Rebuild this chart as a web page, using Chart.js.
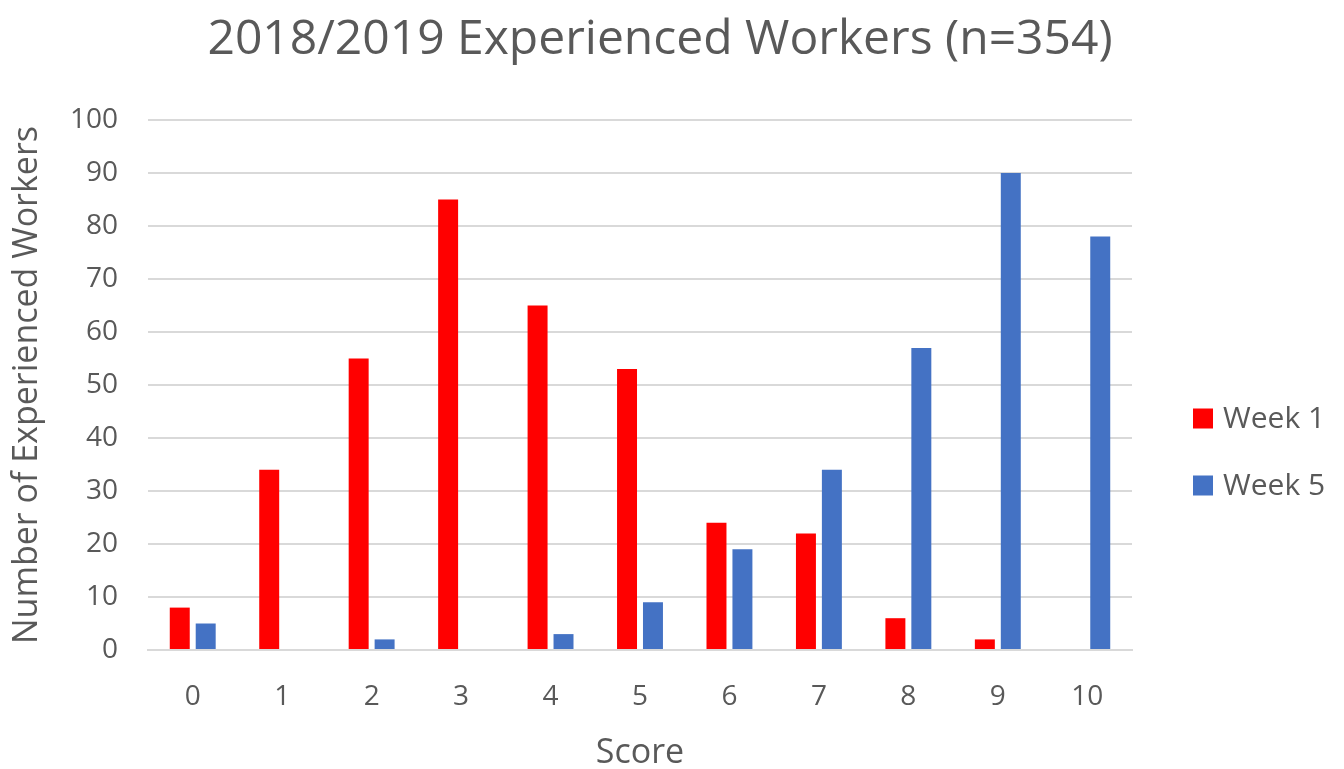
<!DOCTYPE html>
<html>
<head>
<meta charset="utf-8">
<script src="https://cdn.jsdelivr.net/npm/chart.js@4/dist/chart.umd.min.js"></script>
<style>
  html, body { margin: 0; padding: 0; background: #fff; }
  #wrap { width: 1344px; height: 769px; }
</style>
</head>
<body>
<div id="wrap"><canvas id="scoreChart" width="1344" height="769"></canvas></div>
<script>
// Score distribution, week 1 vs week 5
const scores = ['0', '1', '2', '3', '4', '5', '6', '7', '8', '9', '10'];
const week1 = [8, 34, 55, 85, 65, 53, 24, 22, 6, 2, 0];
const week5 = [5, 0, 2, 0, 3, 9, 19, 34, 57, 90, 78];
const seriesNames = ['Week 1', 'Week 5'];
const seriesColors = ['#ff0000', '#4472c4'];

const textColor = '#595959';
const gridColor = '#d9d9d9';
const fontFamily = '"Open Sans", "Noto Sans", sans-serif';

// legend on the right, drawn into the space kept free by the spacer axis
const sideLegend = {
    id: 'sideLegend',
    afterDraw(chart) {
        const ctx = chart.ctx;
        const area = chart.chartArea;
        const x = area.right + 61;
        const midY = (area.top + area.bottom) / 2 + 67;
        const gap = 67;
        ctx.save();
        ctx.font = '30px ' + fontFamily;
        ctx.textBaseline = 'middle';
        chart.data.datasets.forEach((ds, i) => {
            const y = midY + (i - 0.5) * gap;
            ctx.fillStyle = ds.backgroundColor;
            ctx.fillRect(x, y - 10, 20, 20);
            ctx.fillStyle = textColor;
            ctx.fillText(ds.label, x + 30, y + 1);
        });
        ctx.restore();
    }
};

const ctx = document.getElementById('scoreChart').getContext('2d');
new Chart(ctx, {
    type: 'bar',
    data: {
        labels: scores,
        datasets: [
            { label: seriesNames[0], data: week1, backgroundColor: seriesColors[0] },
            { label: seriesNames[1], data: week5, backgroundColor: seriesColors[1] }
        ]
    },
    options: {
        responsive: false,
        animation: false,
        layout: { padding: { left: 0, right: 24, top: 0, bottom: 0 } },
        datasets: {
            bar: { categoryPercentage: 0.58, barPercentage: 0.77 }
        },
        plugins: {
            legend: { display: false },
            tooltip: { enabled: false },
            title: {
                display: true,
                text: '2018/2019 Experienced Workers (n=354)',
                color: textColor,
                font: { family: fontFamily, size: 48, weight: 'normal', lineHeight: 1 },
                padding: { top: 16, bottom: 56 }
            }
        },
        scales: {
            x: {
                grid: { display: false, drawTicks: false },
                border: { color: gridColor, width: 2 },
                ticks: { color: textColor, font: { family: fontFamily, size: 28, lineHeight: 1 }, padding: 33 },
                title: {
                    display: true,
                    text: 'Score',
                    color: textColor,
                    font: { family: fontFamily, size: 34, lineHeight: 0.9 },
                    padding: { top: 27, bottom: 0 }
                },
                afterFit(scale) { scale.height = 119; }
            },
            y: {
                min: 0,
                max: 100,
                ticks: { stepSize: 10, color: textColor, font: { family: fontFamily, size: 28 }, padding: 30 },
                grid: { color: gridColor, lineWidth: 2, drawTicks: false },
                border: { display: false },
                title: {
                    display: true,
                    text: 'Number of Experienced Workers',
                    color: textColor,
                    font: { family: fontFamily, size: 34, lineHeight: 1 },
                    padding: { top: 10, bottom: 10 }
                },
                afterFit(scale) { scale.width = 148; }
            },
            // empty axis that only keeps room for the legend
            spacer: {
                position: 'right',
                display: true,
                grid: { display: false, drawTicks: false },
                border: { display: false },
                ticks: { display: false },
                afterFit(scale) { scale.width = 188; }
            }
        }
    },
    plugins: [sideLegend]
});
</script>
</body>
</html>
